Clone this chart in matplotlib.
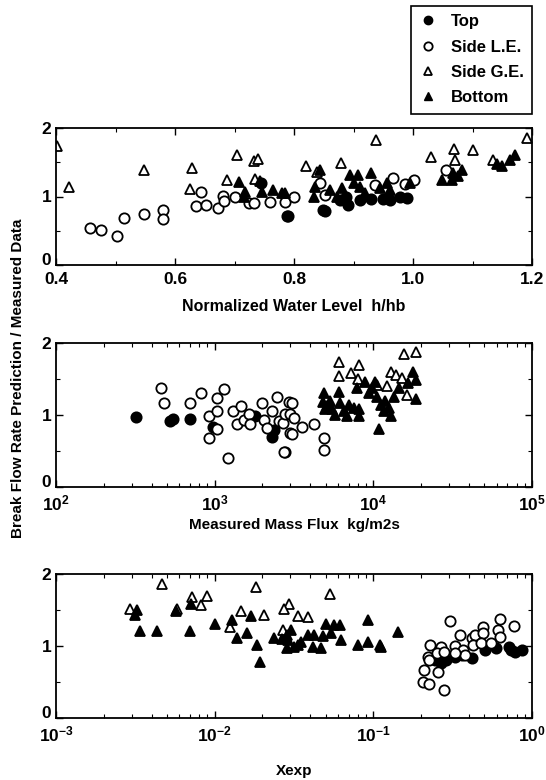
import numpy as np
import matplotlib
matplotlib.use('Agg')
from matplotlib import pyplot as plt
from matplotlib.lines import Line2D
from matplotlib.transforms import ScaledTranslation
from matplotlib.ticker import FixedLocator, FuncFormatter, LogLocator, NullFormatter

plt.rcParams['font.family'] = ['Liberation Sans', 'DejaVu Sans']
plt.rcParams['font.weight'] = 'bold'
plt.rcParams['mathtext.fontset'] = 'custom'
plt.rcParams['mathtext.rm'] = 'Liberation Sans:bold'
plt.rcParams['mathtext.bf'] = 'Liberation Sans:bold'

# ---- Panel 1: normalized water level h/hb ----
p1_top_x = [0.788, 0.790, 0.849, 0.852, 0.877, 0.887, 0.891, 0.911, 0.950, 0.961, 0.978, 0.745, 0.930, 0.990]
p1_top_y = [0.71, 0.72, 0.81, 0.79, 0.95, 1.00, 0.88, 0.95, 0.97, 0.95, 0.99, 1.20, 0.96, 0.98]
p1_le_x = [0.457, 0.476, 0.502, 0.514, 0.548, 0.579, 0.579, 0.643, 0.635, 0.652, 0.673, 0.680, 0.682,
           0.701, 0.725, 0.732, 0.760, 0.785, 0.800, 0.844, 0.852, 0.936, 0.966, 0.987, 1.002, 1.055]
p1_le_y = [0.54, 0.51, 0.43, 0.69, 0.74, 0.81, 0.67, 1.06, 0.86, 0.88, 0.83, 1.01, 0.93,
           1.00, 0.90, 0.90, 0.92, 0.92, 0.99, 1.20, 1.02, 1.17, 1.27, 1.18, 1.24, 1.39]
p1_ge_x = [0.402, 0.422, 0.548, 0.629, 0.625, 0.687, 0.705, 0.732, 0.740, 0.734, 0.938, 1.030, 1.069,
           1.100, 1.191, 0.821, 0.879, 1.135, 1.071, 0.838]
p1_ge_y = [1.73, 1.14, 1.39, 1.42, 1.11, 1.24, 1.60, 1.52, 1.55, 1.26, 1.82, 1.57, 1.69,
           1.68, 1.86, 1.44, 1.49, 1.53, 1.53, 1.36]
p1_bot_x = [0.708, 0.718, 0.716, 0.743, 0.747, 0.765, 0.779, 0.785, 0.843, 0.835, 0.833, 0.894, 0.908,
            0.930, 0.880, 0.911, 0.956, 0.961, 1.048, 1.065, 1.082, 1.068, 1.141, 1.163, 1.171,
            0.995, 0.872, 0.860, 0.920, 0.945, 0.900, 1.075, 1.150]
p1_bot_y = [1.21, 1.07, 1.00, 1.23, 1.07, 1.10, 1.05, 1.05, 1.38, 1.14, 1.00, 1.31, 1.31,
            1.35, 1.12, 1.14, 1.19, 1.09, 1.24, 1.24, 1.39, 1.34, 1.48, 1.53, 1.61,
            1.19, 1.00, 1.10, 1.05, 1.12, 1.20, 1.30, 1.45]

# ---- Panel 2: measured mass flux ----
p2_top_x = [320, 520, 546, 702, 977, 1807, 2282, 2360]
p2_top_y = [0.97, 0.92, 0.95, 0.95, 0.84, 0.99, 0.70, 0.79]
p2_le_x = [458, 477, 695, 824, 917, 917, 1035, 1035, 1035, 1140, 1209, 1299, 1385, 1468, 1540, 1637,
           1680, 1991, 2052, 2140, 2306, 2454, 2540, 2710, 2787, 2787, 2930, 2980, 3083, 3000,
           3140, 3566, 3083, 4220, 4884, 4884, 2750]
p2_le_y = [1.38, 1.17, 1.16, 1.30, 0.99, 0.68, 1.23, 1.05, 0.81, 1.36, 0.40, 1.05, 0.88, 1.12, 0.93, 1.02,
           0.87, 1.17, 0.93, 0.82, 1.05, 1.25, 0.91, 0.89, 1.02, 0.48, 1.18, 0.75, 1.17, 1.01,
           0.96, 0.84, 0.74, 0.87, 0.68, 0.51, 0.48]
p2_ge_x = [15630, 18540, 6070, 6070, 7200, 8120, 8030, 12900, 13870, 15150, 12280, 16200, 10590]
p2_ge_y = [1.85, 1.87, 1.73, 1.54, 1.58, 1.69, 1.50, 1.60, 1.56, 1.51, 1.40, 1.28, 1.42]
p2_bot_x = [4884, 4830, 5120, 6070, 5500, 6200, 7000, 6850, 8120, 8120, 7930, 8900, 9340, 10200,
            10590, 11100, 11600, 12900, 10800, 17700, 18540, 18540, 14500, 5300, 6500, 7500,
            9800, 11900, 12500, 13500, 16500, 5700, 4950]
p2_bot_y = [1.30, 1.18, 1.12, 1.32, 1.09, 1.16, 1.14, 0.98, 1.09, 0.98, 1.37, 1.46, 1.30, 1.46,
            1.25, 1.14, 1.05, 0.98, 0.80, 1.60, 1.49, 1.22, 1.37, 1.20, 1.05, 1.10,
            1.38, 1.20, 1.10, 1.25, 1.45, 1.00, 1.08]

# ---- Panel 3: Xexp ----
p3_top_x = [0.289, 0.325, 0.417, 0.509, 0.595, 0.740, 0.785, 0.860, 0.721, 0.243, 0.268, 0.360]
p3_top_y = [0.81, 0.85, 0.83, 0.94, 0.97, 0.94, 0.92, 0.95, 0.98, 0.81, 0.76, 0.88]
p3_le_x = [0.304, 0.352, 0.417, 0.436, 0.494, 0.494, 0.626, 0.612, 0.626, 0.770, 0.229, 0.268, 0.325,
           0.370, 0.426, 0.480, 0.553, 0.221, 0.210, 0.205, 0.225, 0.256, 0.279, 0.225, 0.253,
           0.279, 0.377, 0.325]
p3_le_y = [1.35, 1.15, 1.11, 1.15, 1.27, 1.18, 1.37, 1.22, 1.13, 1.28, 1.01, 0.98, 1.00,
           0.94, 1.01, 1.04, 1.04, 0.85, 0.67, 0.50, 0.47, 0.64, 0.39, 0.81, 0.90,
           0.92, 0.87, 0.90]
p3_ge_x = [0.00294, 0.00467, 0.00580, 0.00723, 0.00815, 0.00899, 0.0182, 0.0204, 0.0146, 0.0125,
           0.0537, 0.0295, 0.0274, 0.0334, 0.0386, 0.0268]
p3_ge_y = [1.52, 1.86, 1.52, 1.68, 1.57, 1.69, 1.82, 1.43, 1.48, 1.26,
           1.72, 1.59, 1.51, 1.41, 1.40, 1.22]
p3_bot_x = [0.00324, 0.00313, 0.00337, 0.00433, 0.00574, 0.00698, 0.00713, 0.0101, 0.0129, 0.0139,
            0.0161, 0.0169, 0.0186, 0.0192, 0.0237, 0.0286, 0.0286, 0.0302, 0.0288, 0.0317,
            0.0386, 0.0424, 0.0479, 0.0504, 0.0565, 0.0617, 0.0627, 0.0540, 0.0415, 0.0468,
            0.0800, 0.0924, 0.0924, 0.1095, 0.1120, 0.1435, 0.0334, 0.0265, 0.0350]
p3_bot_y = [1.50, 1.43, 1.21, 1.21, 1.49, 1.21, 1.59, 1.31, 1.36, 1.11,
            1.18, 1.41, 1.01, 0.78, 1.11, 1.15, 0.97, 1.22, 1.08, 0.99,
            1.15, 1.15, 1.14, 1.31, 1.29, 1.29, 1.08, 1.18, 0.99, 0.97,
            1.01, 1.36, 1.06, 1.01, 0.98, 1.20, 1.01, 1.10, 1.05]

ms = 7.4
mew = 1.3


def draw(ax, data):
    top, le, ge, bot = data
    ax.plot(*top, 'o', color='black', ms=ms, mew=mew, ls='none')
    ax.plot(*le, 'o', mfc='white', mec='black', ms=ms, mew=mew, ls='none')
    ax.plot(*ge, '^', mfc='white', mec='black', ms=ms, mew=mew, ls='none')
    ax.plot(*bot, '^', color='black', ms=ms, mew=mew, ls='none')


def style(ax):
    ax.set_ylim(0, 2)
    ax.yaxis.set_major_locator(FixedLocator([0, 1, 2]))
    ax.yaxis.set_minor_locator(FixedLocator([0.5, 1.5]))
    ax.tick_params(which='both', direction='in', top=True, right=True, labelsize=12.5)
    ax.tick_params(which='major', length=5, width=1)
    ax.tick_params(which='minor', length=3, width=0.8)
    ax.tick_params(axis='x', pad=5)
    for s in ax.spines.values():
        s.set_linewidth(1.3)
    for lab in ax.get_xticklabels() + ax.get_yticklabels():
        lab.set_fontweight('bold')
    # the "0" sits a bit high so it clears the x tick labels
    fig.canvas.draw()
    lab0 = ax.get_yticklabels()[0]
    lab0.set_transform(lab0.get_transform() + ScaledTranslation(0, 4 / 72, fig.dpi_scale_trans))


def log_fmt(v, pos):
    return r'$\mathbf{10^{%d}}$' % int(round(np.log10(v)))


fig = plt.figure(figsize=(5.46, 7.8), dpi=100)
L, W = 56 / 546, 476 / 546

ax1 = fig.add_axes([L, 1 - 265 / 780, W, 137 / 780])
draw(ax1, [(p1_top_x, p1_top_y), (p1_le_x, p1_le_y), (p1_ge_x, p1_ge_y), (p1_bot_x, p1_bot_y)])
ax1.set_xlim(0.4, 1.2)
ax1.xaxis.set_major_locator(FixedLocator([0.4, 0.6, 0.8, 1.0, 1.2]))
ax1.xaxis.set_minor_locator(FixedLocator([0.5, 0.7, 0.9, 1.1]))
ax1.xaxis.set_major_formatter(FuncFormatter(lambda v, p: '%.1f' % v))
style(ax1)
ax1.set_xlabel('Normalized Water Level  h/hb', fontsize=11.5, fontweight='bold', labelpad=9)

ax2 = fig.add_axes([L, 1 - 487 / 780, W, 144 / 780])
draw(ax2, [(p2_top_x, p2_top_y), (p2_le_x, p2_le_y), (p2_ge_x, p2_ge_y), (p2_bot_x, p2_bot_y)])
ax2.set_xscale('log')
ax2.set_xlim(1e2, 1e5)
ax2.xaxis.set_major_locator(LogLocator(base=10, numticks=10))
ax2.xaxis.set_minor_locator(LogLocator(base=10, subs=np.arange(2, 10), numticks=10))
ax2.xaxis.set_major_formatter(FuncFormatter(log_fmt))
ax2.xaxis.set_minor_formatter(NullFormatter())
style(ax2)
ax2.set_xlabel('Measured Mass Flux  kg/m2s', fontsize=11, fontweight='bold', labelpad=3)

ax3 = fig.add_axes([L, 1 - 718 / 780, W, 144 / 780])
draw(ax3, [(p3_top_x, p3_top_y), (p3_le_x, p3_le_y), (p3_ge_x, p3_ge_y), (p3_bot_x, p3_bot_y)])
ax3.set_xscale('log')
ax3.set_xlim(1e-3, 1e0)
ax3.xaxis.set_major_locator(LogLocator(base=10, numticks=10))
ax3.xaxis.set_minor_locator(LogLocator(base=10, subs=np.arange(2, 10), numticks=10))
ax3.xaxis.set_major_formatter(FuncFormatter(log_fmt))
ax3.xaxis.set_minor_formatter(NullFormatter())
style(ax3)
ax3.set_xlabel('Xexp', fontsize=11, fontweight='bold', labelpad=14)

fig.text(18 / 546, 1 - 378 / 780, 'Break Flow Rate Prediction / Measured Data',
         rotation=90, ha='center', va='center', fontsize=11, fontweight='bold')

handles = [
    Line2D([], [], marker='o', color='black', ls='none', ms=6),
    Line2D([], [], marker='o', mfc='white', mec='black', mew=1.3, ls='none', ms=6),
    Line2D([], [], marker='^', mfc='white', mec='black', mew=1.3, ls='none', ms=6),
    Line2D([], [], marker='^', color='black', ls='none', ms=6),
]
leg = fig.legend(handles, ['Top', 'Side L.E.', 'Side G.E.', 'Bottom'],
                 loc='upper left', bbox_to_anchor=(411 / 546, 1 - 6 / 780),
                 prop={'weight': 'bold', 'size': 12}, frameon=True, fancybox=False,
                 edgecolor='black', framealpha=1, handlelength=1.0, handletextpad=0.9,
                 labelspacing=0.62, borderpad=0.5, borderaxespad=0)
leg.get_frame().set_linewidth(1.2)

fig.savefig('out.png', dpi=100)
